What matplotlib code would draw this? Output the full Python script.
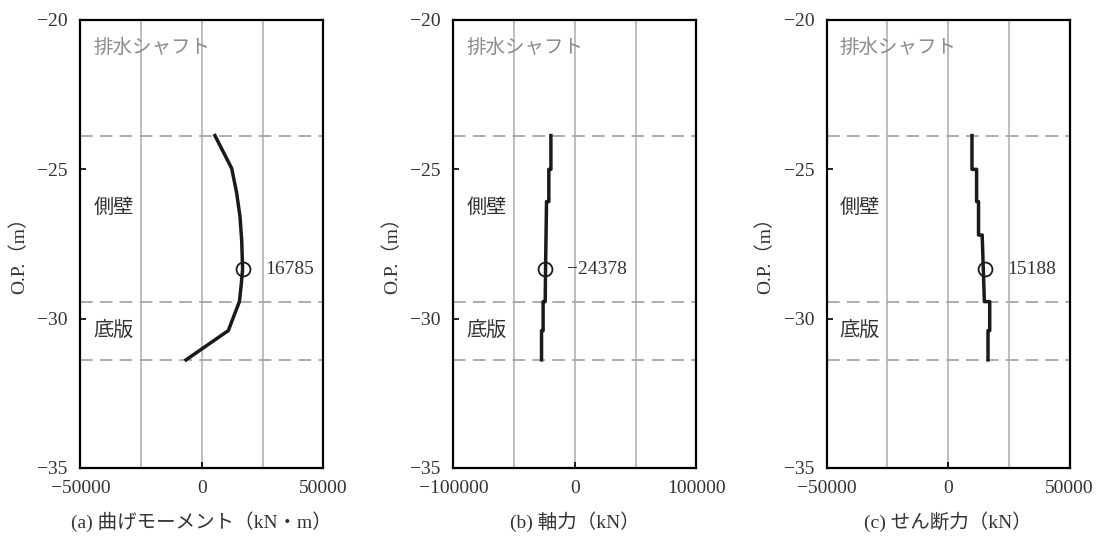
import matplotlib
matplotlib.use("Agg")
import matplotlib.pyplot as plt
from matplotlib.ticker import MultipleLocator

plt.rcParams['font.family'] = ['Liberation Serif', 'Noto Sans CJK JP']
plt.rcParams['axes.unicode_minus'] = True

# section boundaries (O.P. m)
bounds = [-23.87, -29.43, -31.38]

# (a) bending moment
moment_y = [-23.87, -24.97, -25.80, -26.58, -27.37, -28.34, -28.93, -29.43, -30.40, -31.38]
moment = [5400, 12300, 14350, 15700, 16400, 16785, 16130, 15450, 10900, -6500]

# (b) axial force
axial_y = [-23.87, -25.0, -25.0, -26.08, -26.08, -28.34, -29.43, -29.43, -30.40, -30.40, -31.38]
axial = [-19700, -19700, -21400, -21400, -23300, -24100, -24400, -26100, -26100, -27400, -27400]

# (c) shear force
shear_y = [-23.87, -25.0, -25.0, -26.08, -26.08, -27.2, -27.2, -29.43, -29.43, -30.40, -30.40, -31.38]
shear = [9800, 9800, 11700, 11700, 12500, 12500, 14000, 14900, 17100, 17100, 16400, 16400]

max_elev = -28.34
max_vals = [16785, -24378, 15188]
max_labels = ['16785', '\u221224378', '15188']

xlims = [(-50000, 50000), (-100000, 100000), (-50000, 50000)]
xsteps = [50000, 100000, 50000]
xlabels = ['(a) 曲げモーメント（kN・m）', '(b) 軸力（kN）', '(c) せん断力（kN）']

fig = plt.figure(figsize=(10.99, 5.36), dpi=100)
lefts = [0.0731, 0.4125, 0.7522]
series = [(moment, moment_y), (axial, axial_y), (shear, shear_y)]

for i in range(3):
    ax = fig.add_axes([lefts[i], 0.1269, 0.2211, 0.8358])
    xs, ys = series[i]
    ax.set_xlim(*xlims[i])
    ax.set_ylim(-35, -20)
    ax.xaxis.set_major_locator(MultipleLocator(xsteps[i]))
    ax.xaxis.set_minor_locator(MultipleLocator(xsteps[i] / 2))
    ax.yaxis.set_major_locator(MultipleLocator(5))
    ax.grid(True, axis='x', which='both', color='#b3b3b3', lw=1.2)
    ax.set_axisbelow(True)
    for b in bounds:
        ax.axhline(b, color='#a6a6a6', lw=1.3, linestyle=(0, (7, 4)), zorder=1)
    ax.plot(xs, ys, color='#1a1a1a', lw=2.5, zorder=3)
    ax.plot([max_vals[i]], [max_elev], 'o', mfc='none', mec='#1a1a1a',
            mew=1.3, ms=10, zorder=4)
    ax.annotate(max_labels[i], (max_vals[i], max_elev), xytext=(16, 0),
                textcoords='offset points', va='center', ha='left',
                fontsize=14, color='#333333')
    ax.text(0.053, 0.937, '排水シャフト', transform=ax.transAxes,
            fontsize=14, color='#8c8c8c', va='center')
    ax.text(0.053, 0.579, '側壁', transform=ax.transAxes,
            fontsize=14.5, color='#333333', va='center')
    ax.text(0.053, 0.305, '底版', transform=ax.transAxes,
            fontsize=14.5, color='#333333', va='center')
    for s in ax.spines.values():
        s.set_linewidth(1.6)
        s.set_color('black')
    ax.tick_params(axis='both', which='major', direction='in', length=4,
                   width=1.2, labelsize=14, colors='black', labelcolor='#333333')
    ax.tick_params(axis='x', which='major', pad=9)
    ax.tick_params(axis='y', which='major', pad=9)
    ax.tick_params(axis='x', which='minor', length=0)
    ax.set_xlabel(xlabels[i], fontsize=14, color='#333333', labelpad=10)
    ax.set_ylabel('O.P.（m）', fontsize=14, color='#333333')
    ax.yaxis.set_label_coords(-0.215, 0.485)

fig.savefig('out.png', dpi=100)
